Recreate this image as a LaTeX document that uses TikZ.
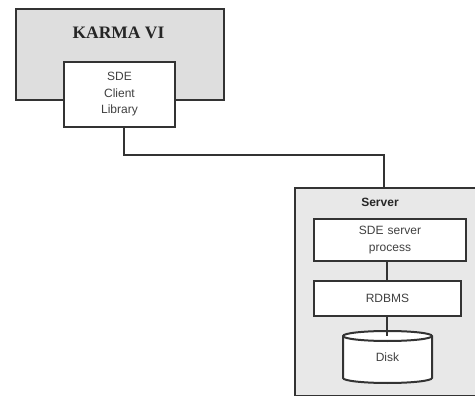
\documentclass[tikz,border=0pt]{standalone}
\usepackage{fontspec}
\setmainfont{Liberation Sans}
\newfontfamily\karmafont{Liberation Serif}
\usetikzlibrary{calc}
\definecolor{karmafill}{HTML}{DEDEDE}
\definecolor{serverfill}{HTML}{E8E8E8}
\definecolor{edge}{HTML}{333333}
\definecolor{txt}{HTML}{404040}
\begin{document}
\begin{tikzpicture}[x=1pt,y=-1pt,
  outerbox/.style={draw=edge, line width=2.2pt, anchor=north west, inner sep=0pt},
  innerbox/.style={draw=edge, line width=2pt, fill=white, anchor=north west, inner sep=0pt,
                   align=center, text=txt, font=\fontsize{12}{16.5}\selectfont},
  conn/.style={draw=edge, line width=2pt},
  label/.style={inner sep=0pt, text=txt}]
\useasboundingbox (0,0) rectangle (475,396);
\clip (0,0) rectangle (475,396);
\fill[white] (0,0) rectangle (475,396);
% KARMA VI
\node[outerbox, fill=karmafill, minimum width=208pt, minimum height=91pt] (karma) at (15,8) {};
\node[label, font=\karmafont\bfseries\fontsize{17.5}{20}\selectfont, text=black!85] (karmalabel) at (118.5,33) {KARMA VI};
\node[innerbox, minimum width=111pt, minimum height=65pt, text width=111pt] (client) at (63,61) {SDE\\Client\\Library};
% Server
\node[outerbox, fill=serverfill, minimum width=190pt, minimum height=208pt] (server) at (294,187) {};
\node[label, font=\bfseries\fontsize{12}{14}\selectfont, text=black!85] (serverlabel) at (380,202) {Server};
\node[innerbox, minimum width=152pt, minimum height=42pt, text width=152pt] (sde) at (313,218) {SDE server\\process};
\node[innerbox, minimum width=147pt, minimum height=35pt, text width=147pt] (rdbms) at (313,280) {RDBMS};
% Disk cylinder
\filldraw[fill=white, draw=edge, line width=2pt]
  (343,336) -- (343,378) arc[start angle=180, end angle=360, x radius=44.5, y radius=-5]
  -- (432,336) arc[start angle=0, end angle=180, x radius=44.5, y radius=-5] -- cycle;
\draw[draw=edge, line width=2pt] (343,336) arc[start angle=180, end angle=360, x radius=44.5, y radius=-5];
\node[label, font=\fontsize{12}{14}\selectfont] (disk) at (387.5,357) {Disk};
\coordinate (disktop) at (387,336);
% connectors
\coordinate (clientout) at ($(client.south)+(4.5,0)$);
\coordinate (bend) at (384,155.5);
\coordinate (srvtop) at (384,187);
\draw[conn] (clientout) |- (bend) -- (srvtop);
\draw[conn] (sde.south -| disktop) -- (rdbms.north -| disktop);
\draw[conn] (rdbms.south -| disktop) -- (disktop);
\end{tikzpicture}
\end{document}
